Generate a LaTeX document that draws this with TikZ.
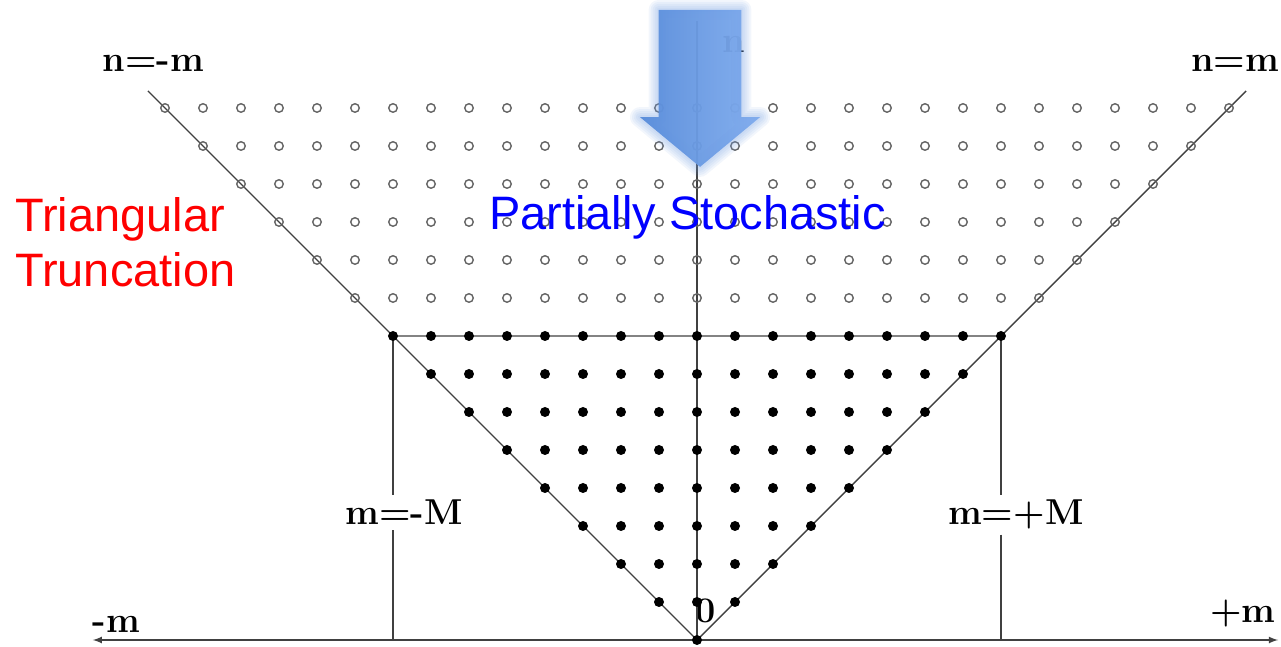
\documentclass[tikz,border=0pt]{standalone}
\usepackage{fontspec}
\newfontfamily\arialfont{Liberation Sans}
\definecolor{arrowL}{RGB}{88,140,218}
\definecolor{arrowR}{RGB}{128,172,238}
\definecolor{gridgray}{RGB}{100,100,100}
\tikzset{
  fdot/.style={circle,fill=black,inner sep=0pt,minimum size=0.2cm},
  odot/.style={circle,draw=gridgray,line width=0.8pt,inner sep=0pt,minimum size=0.17cm},
  axline/.style={draw=black!75,line width=0.8pt},
  tlabel/.style={font=\fontsize{20.5}{24}\selectfont\bfseries,inner sep=0.1cm},
  note/.style={font=\arialfont\fontsize{26.7}{31.2}\selectfont,inner sep=0pt},
}

\begin{document}
\begin{tikzpicture}[x=0.76cm,y=0.76cm]
  \useasboundingbox (-18.342,-0.158) rectangle (15.368,16.842);

  % key points of the (m,n) plane
  \coordinate (O) at (0,0);
  \coordinate (axL) at (-15.9,0); \coordinate (axR) at (15.29,0);
  \coordinate (axT) at (0,16.3);
  \coordinate (dL) at (-14.45,14.45); \coordinate (dR) at (14.45,14.45);
  \coordinate (cL) at (-8,8); \coordinate (cR) at (8,8);
  \coordinate (bL) at (-8,0); \coordinate (bR) at (8,0);

  % axis and edge labels
  \node[tlabel,anchor=base] (nmL) at (-14.3,14.95) {n=-m};
  \node[tlabel,anchor=base] (nmR) at (14.16,14.95) {n=m};
  \node[tlabel,anchor=base] (mneg) at (-15.28,0.21) {-m};
  \node[tlabel,anchor=base] (mpos) at (14.36,0.47) {+m};
  \node[tlabel,anchor=base] (zero) at (0.24,0.47) {0};
  \node[tlabel,anchor=base] (naxis) at (0.98,15.47) {n};
  \node[tlabel,anchor=base] (lblL) at (-7.71,3.03) {m=-M};
  \node[tlabel,anchor=base] (lblR) at (8.39,3.03) {m=+M};

  % lines
  \draw[axline,<->,>=latex] (axL) -- (axR);
  \draw[axline] (O) -- (axT);
  \draw[axline] (O) -- (dL) (O) -- (dR) (cL) -- (cR);
  \draw[axline] (cL) -- (cL |- lblL.north) (cL |- lblL.south) -- (bL);
  \draw[axline] (cR) -- (cR |- lblR.north) (cR |- lblR.south) -- (bR);

  % kept modes |m| <= n <= M
  \foreach \n in {0,...,8}
    \foreach \m in {-\n,...,\n}
      \node[fdot] (f\n\m) at (\m,\n) {};
  % truncated modes
  \foreach \n in {9,...,14}
    \foreach \m in {-\n,...,\n}
      \node[odot] (o\n\m) at (\m,\n) {};

  % blue block arrow, soft edge
  \coordinate (a1) at (-1.01,16.58); \coordinate (a2) at (1.17,16.58);
  \coordinate (a3) at (1.17,13.76);  \coordinate (a4) at (1.66,13.76);
  \coordinate (a5) at (0.08,12.45);  \coordinate (a6) at (-1.50,13.76);
  \coordinate (a7) at (-1.01,13.76);
  \foreach \w in {0.40,0.32,0.24,0.16,0.08}
    \draw[arrowL!85!white,line width=\w cm,opacity=0.09,line join=round]
      (a1) -- (a2) -- (a3) -- (a4) -- (a5) -- (a6) -- (a7) -- cycle;
  \shade[left color=arrowL,right color=arrowR,fill opacity=0.96]
    (a1) -- (a2) -- (a3) -- (a4) -- (a5) -- (a6) -- (a7) -- cycle;

  % annotations
  \node[note,text=red,anchor=north west,align=left] (trunc) at (-17.947,11.658) {Triangular\\Truncation};
  \node[note,text=blue,anchor=base] (stoch) at (-0.25,10.79) {Partially Stochastic};
\end{tikzpicture}
\end{document}
